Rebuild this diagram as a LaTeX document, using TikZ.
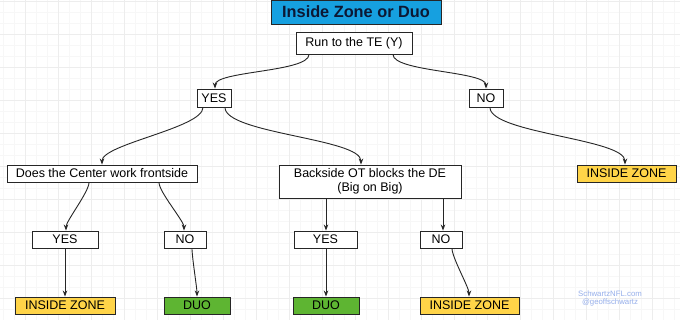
\documentclass[tikz,border=0pt]{standalone}
\usepackage{fontspec}
\setmainfont{Liberation Sans}
\usetikzlibrary{arrows.meta}
\definecolor{titleblue}{RGB}{22,160,224}
\definecolor{titletext}{RGB}{12,24,52}
\definecolor{zoneyellow}{RGB}{255,212,72}
\definecolor{duogreen}{RGB}{94,181,50}
\definecolor{wmblue}{RGB}{150,175,235}
\begin{document}
\begin{tikzpicture}[x=1pt,y=-1pt,
  box/.style={draw=black!85,line width=0.9pt,fill=white,inner sep=0pt,font=\fontsize{12.5}{14}\selectfont,align=center},
  zone/.style={box,fill=zoneyellow},
  duo/.style={box,fill=duogreen},
  conn/.style={-{Stealth[length=6pt,width=4.5pt]},line width=0.9pt,black!85},
  curvy/.style={out=-90,in=90,looseness=0.45}
]
\useasboundingbox (0,0) rectangle (680,320);
\fill[white] (0,0) rectangle (680,320);
\foreach \x in {3,14,...,680} \draw[black!3,line width=0.5pt] (\x,0) -- (\x,320);
\foreach \y in {1,12,...,320} \draw[black!3,line width=0.5pt] (0,\y) -- (680,\y);
\foreach \x in {25,58,...,680} \draw[black!7,line width=0.6pt] (\x,0) -- (\x,320);
\foreach \y in {1,34,...,320} \draw[black!7,line width=0.6pt] (0,\y) -- (680,\y);

\node[box,fill=titleblue,minimum width=170pt,minimum height=24pt,font=\fontsize{16.3}{18}\selectfont\bfseries,text=titletext] (title) at (356,12) {Inside Zone or Duo};
\node[box,minimum width=116pt,minimum height=22pt] (run) at (354,43) {Run to the TE (Y)};
\node[box,minimum width=34pt,minimum height=18pt] (yes1) at (214,98) {YES};
\node[box,minimum width=34pt,minimum height=18pt] (no1) at (486,98) {NO};
\node[box,minimum width=190pt,minimum height=17pt] (does) at (102,173.5) {Does the Center work frontside};
\node[box,minimum width=182pt,minimum height=33pt] (back) at (370,181.5) {Backside OT blocks the DE\\(Big on Big)};
\node[zone,minimum width=99pt,minimum height=17pt] (iz1) at (626.5,173.5) {INSIDE ZONE};
\node[box,minimum width=66pt,minimum height=17pt] (yes2) at (65,239.5) {YES};
\node[box,minimum width=42pt,minimum height=17pt] (no2) at (185,239.5) {NO};
\node[box,minimum width=63pt,minimum height=17pt] (yes3) at (325.5,239.5) {YES};
\node[box,minimum width=42pt,minimum height=17pt] (no3) at (441,239.5) {NO};
\node[zone,minimum width=100pt,minimum height=17pt] (iz2) at (65,305.5) {INSIDE ZONE};
\node[duo,minimum width=66pt,minimum height=17pt] (duo1) at (197,305.5) {DUO};
\node[duo,minimum width=66pt,minimum height=17pt] (duo2) at (326,305.5) {DUO};
\node[zone,minimum width=99pt,minimum height=17pt] (iz3) at (469.5,305.5) {INSIDE ZONE};
\node[text=wmblue,font=\fontsize{7.8}{8.5}\selectfont,align=center,inner sep=0pt] (wm) at (610,298.5) {SchwartzNFL.com\\@geoffschwartz};

\draw[conn] (run.south -| 309,0) to[curvy] (yes1.north -| 215,0);
\draw[conn] (run.south -| 393,0) to[curvy] (no1.north -| 486,0);
\draw[conn] (yes1.south -| 203,0) to[curvy] (does.north -| 102,0);
\draw[conn] (yes1.south -| 225,0) to[curvy] (back.north -| 361,0);
\draw[conn] (no1.south -| 490,0) to[curvy] (iz1.north -| 625,0);
\draw[conn] (does.south -| 89,0) to[curvy] (yes2.north -| 66,0);
\draw[conn] (does.south -| 159,0) to[curvy] (no2.north -| 184,0);
\draw[conn] (yes2) -- (iz2);
\draw[conn] (no2.south -| 192,0) to[curvy] (duo1.north -| 197,0);
\draw[conn] (back.south -| 326,0) -- (yes3.north -| 326,0);
\draw[conn] (back.south -| 443,0) -- (no3.north -| 443,0);
\draw[conn] (yes3.south -| 326,0) -- (duo2.north -| 326,0);
\draw[conn] (no3.south -| 452,0) to[curvy] (iz3.north -| 469,0);
\end{tikzpicture}
\end{document}
